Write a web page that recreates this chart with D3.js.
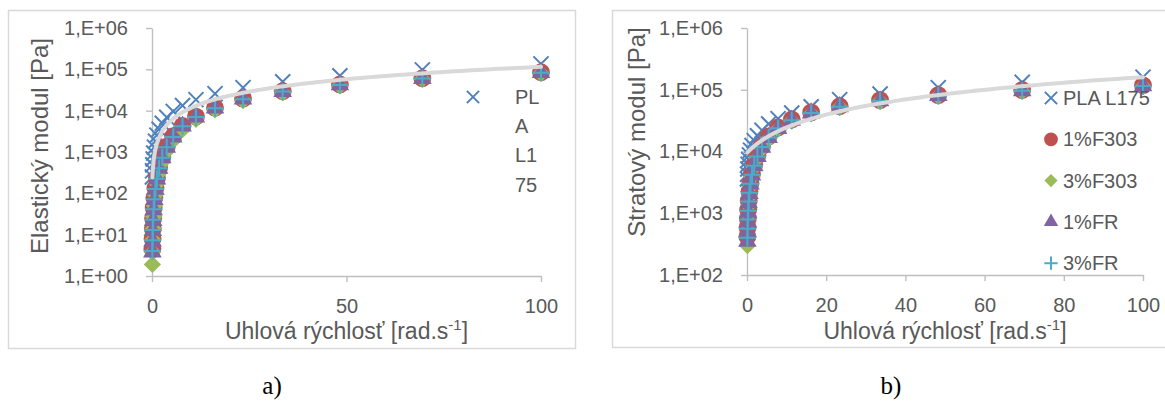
<!DOCTYPE html>
<html>
<head>
<meta charset="utf-8">
<script src="https://cdn.jsdelivr.net/npm/d3@7"></script>
<style>
  body { margin: 0; background: #fff; }
  text { font-family: "Liberation Sans", Arial, sans-serif; fill: #595959; }
</style>
</head>
<body>
<svg width="1165" height="407"></svg>
<script>
// uhlova rychlost [rad/s]
const omega = [0.1, 0.144, 0.207, 0.298, 0.428, 0.616, 0.886, 1.27, 1.83, 2.64,
               3.79, 5.46, 7.85, 11.3, 16.2, 23.4, 33.6, 48.3, 69.5, 100];

const seriesNames = ['PLA L175', '1%F303', '3%F303', '1%FR', '3%FR'];

// elasticky modul G' [Pa]
const gPLA   = [250, 350, 490, 680, 940, 1310, 1830, 2550, 3550, 4950, 6900, 9600, 13300, 18500, 25800, 36000, 50000, 70000, 97000, 135000];
const gF303a = [4.5, 8, 14, 25, 44, 78, 135, 235, 420, 750, 1350, 2400, 4300, 7200, 11800, 19500, 29500, 43000, 61000, 85000];
const gF303b = [1.9, 3.8, 7.5, 14, 27, 50, 92, 170, 310, 570, 1050, 1900, 3500, 6200, 10500, 17500, 27000, 40000, 58000, 80000];
const gFRa   = [3.8, 7, 12.5, 22, 40, 70, 125, 220, 400, 720, 1300, 2300, 4200, 7000, 11500, 19000, 29000, 42000, 60000, 83000];
const gFRb   = [4, 7.3, 13, 23, 41, 72, 128, 225, 405, 730, 1310, 2320, 4200, 7000, 11500, 19000, 29000, 42000, 60000, 83000];

// stratovy modul G'' [Pa]
const sPLA   = [3600, 4300, 5200, 6200, 7400, 8800, 10500, 12500, 15000, 18000, 22000, 28000, 34000, 42000, 53000, 69000, 85000, 108000, 132000, 160000];
const sF303a = [420, 590, 820, 1150, 1600, 2250, 3100, 4350, 6100, 8600, 12200, 17500, 24500, 33000, 43000, 54000, 68000, 82000, 99000, 118000];
const sF303b = [300, 440, 640, 920, 1330, 1900, 2700, 3850, 5500, 7800, 11200, 16000, 23000, 31000, 41000, 52000, 65000, 79000, 95000, 113000];
const sFRa   = [350, 500, 720, 1030, 1470, 2080, 2950, 4150, 5850, 8250, 11700, 16700, 23500, 32000, 42000, 53000, 66000, 80000, 96000, 115000];
const sFRb   = [400, 560, 790, 1100, 1550, 2150, 3000, 4200, 5900, 8300, 11800, 16800, 23800, 32000, 42000, 53000, 66000, 80000, 96000, 115000];

// linearne trendy (sklon, posun)
const trendLeft = [1150, 130];
const trendRight = [1505, 9500];

const xTicksLeft = [0, 50, 100];
const xTicksRight = [0, 20, 40, 60, 80, 100];
const yTicksLeft = [1e0, 1e1, 1e2, 1e3, 1e4, 1e5, 1e6];
const yTicksRight = [1e2, 1e3, 1e4, 1e5, 1e6];

const legendLeftLines = ['PL', 'A', 'L1', '75'];

const colors = ['#4F81BD', '#C0504D', '#9BBB59', '#8064A2', '#4BACC6'];
const shapes = [d3.symbolTimes, d3.symbolCircle, d3.symbolDiamond2, d3.symbolTriangle, d3.symbolPlus];
const stroked = [true, false, false, false, true];
const plotSizes = [150, 250, 190, 150, 100];
const legendSizes = [100, 150, 110, 90, 60];

const svg = d3.select('svg');

function expFormat(v) {
  const e = Math.round(Math.log10(v));
  return '1,E+' + String(e).padStart(2, '0');
}

function marker(g, i, x, y, size) {
  const p = g.append('path')
    .attr('d', d3.symbol().type(shapes[i]).size(size)())
    .attr('transform', `translate(${x},${y})`);
  if (stroked[i]) p.attr('fill', 'none').attr('stroke', colors[i]).attr('stroke-width', 2);
  else p.attr('fill', colors[i]);
}

function drawChart(c) {
  const g = svg.append('g');

  // ramik grafu
  g.append('rect')
    .attr('x', c.box[0]).attr('y', c.box[1])
    .attr('width', c.box[2]).attr('height', c.box[3])
    .attr('fill', '#fff').attr('stroke', '#D9D9D9').attr('stroke-width', 1.5);

  const x = d3.scaleLinear().domain([0, 100]).range(c.xr);
  const y = d3.scaleLog().domain(c.yd).range(c.yr);

  const yAxis = g.append('g')
    .attr('transform', `translate(${c.xr[0]},0)`)
    .call(d3.axisLeft(y).tickValues(c.yTicks).tickFormat(expFormat)
      .tickSize(6).tickSizeOuter(0).tickPadding(18));
  const xAxis = g.append('g')
    .attr('transform', `translate(0,${c.yr[0]})`)
    .call(d3.axisBottom(x).tickValues(c.xTicks)
      .tickSize(6).tickSizeOuter(0).tickPadding(17));
  [xAxis, yAxis].forEach(a => {
    a.selectAll('path, line').attr('stroke', '#BFBFBF').attr('stroke-width', 1.4);
    a.selectAll('text').style('font-size', '20px').attr('fill', '#595959');
  });

  // body
  c.series.forEach((vals, i) => {
    const sg = g.append('g');
    vals.forEach((v, j) => marker(sg, i, x(omega[j]), y(v), plotSizes[i]));
  });

  // trend
  const tx = d3.range(0, 301).map(k => 0.1 * Math.pow(1000, k / 300));
  const line = d3.line()
    .x(d => x(d))
    .y(d => y(c.trend[0] * d + c.trend[1]));
  g.append('path').datum(tx)
    .attr('d', line)
    .attr('fill', 'none').attr('stroke', '#D9D9D9').attr('stroke-width', 4)
    .attr('stroke-linecap', 'round');

  // nazvy osi
  const xt = g.append('text')
    .attr('x', (c.xr[0] + c.xr[1]) / 2).attr('y', 339)
    .attr('text-anchor', 'middle').style('font-size', '23px');
  xt.append('tspan').text('Uhlová rýchlosť [rad.s');
  xt.append('tspan').text('-1').style('font-size', '15px').attr('dy', -9);
  xt.append('tspan').text(']').attr('dy', 9);

  g.append('text')
    .attr('transform', `translate(${c.ytX},${c.ytY}) rotate(-90)`)
    .attr('text-anchor', 'middle').attr('dominant-baseline', 'central')
    .style('font-size', '24px')
    .text(c.yTitle);

  return g;
}

const left = drawChart({
  box: [8.5, 10.5, 567, 338],
  xr: [152, 541], yr: [276, 28], yd: [1e0, 1e6],
  xTicks: xTicksLeft, yTicks: yTicksLeft,
  series: [gPLA, gF303a, gF303b, gFRa, gFRb],
  trend: trendLeft,
  yTitle: 'Elastický modul [Pa]', ytX: 39, ytY: 146
});

// legenda vlavo (zalomeny text)
marker(left, 0, 473, 97, legendSizes[0]);
left.selectAll('.leg').data(legendLeftLines).join('text')
  .attr('x', 515).attr('y', (d, i) => 97 + i * 29.2)
  .attr('dominant-baseline', 'central')
  .style('font-size', '20px')
  .text(d => d);

const right = drawChart({
  box: [612.5, 10.5, 560, 337],
  xr: [747, 1143], yr: [275, 28], yd: [1e2, 1e6],
  xTicks: xTicksRight, yTicks: yTicksRight,
  series: [sPLA, sF303a, sF303b, sFRa, sFRb],
  trend: trendRight,
  yTitle: 'Stratový modul [Pa]', ytX: 636, ytY: 132
});

// legenda vpravo
seriesNames.forEach((name, i) => {
  const ly = 98 + i * 41.3;
  marker(right, i, 1051, ly, legendSizes[i]);
  right.append('text')
    .attr('x', 1063).attr('y', ly)
    .attr('dominant-baseline', 'central')
    .style('font-size', '20px')
    .text(name);
});

// popisky a) b)
svg.selectAll('.cap').data(['a)', 'b)']).join('text')
  .attr('x', (d, i) => i === 0 ? 272 : 891).attr('y', 394)
  .attr('text-anchor', 'middle')
  .style('font-family', '"Liberation Serif", "Times New Roman", serif')
  .style('font-size', '25px').style('fill', '#000')
  .text(d => d);
</script>
</body>
</html>
